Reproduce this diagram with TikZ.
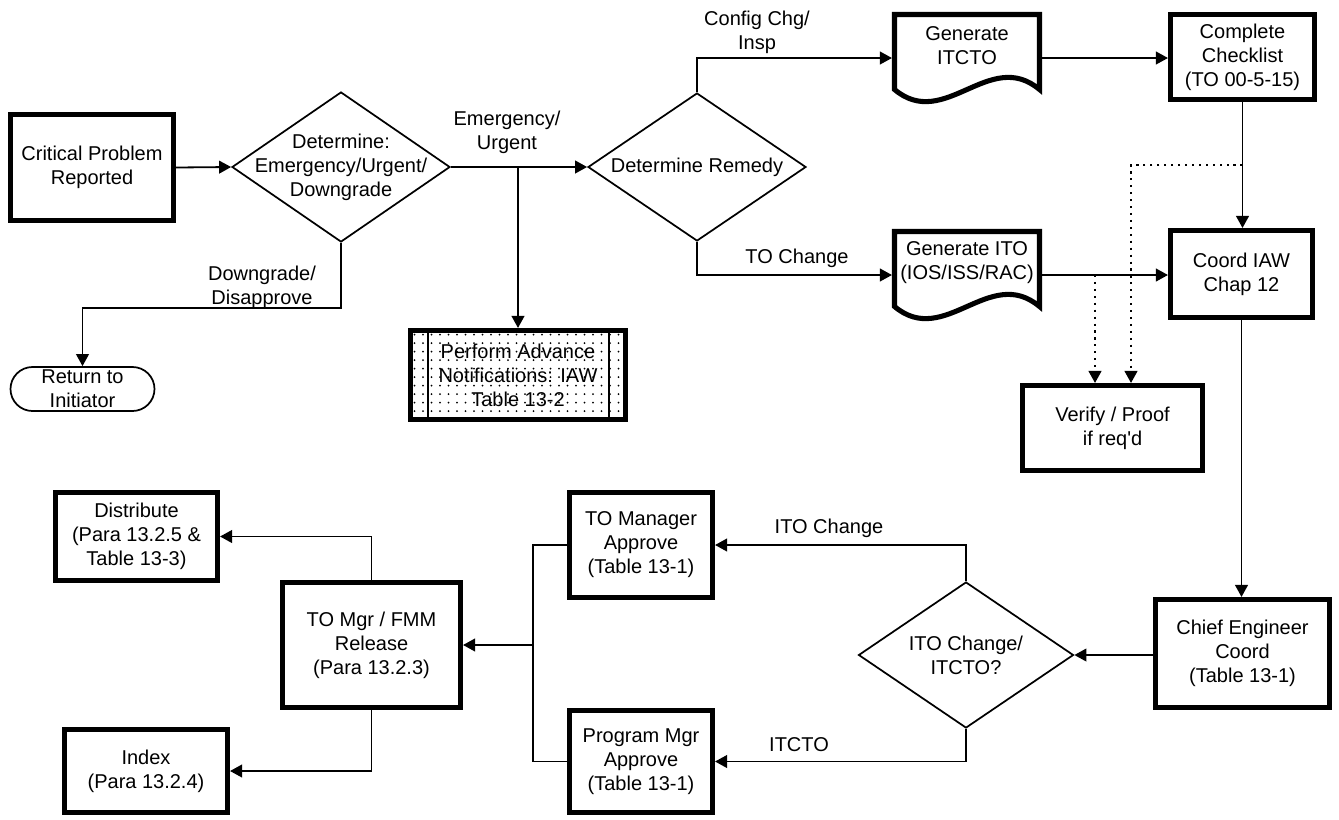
\documentclass[tikz,border=0pt]{standalone}
\usepackage{fontspec}
\setmainfont{Liberation Sans}
\usetikzlibrary{shapes.geometric,arrows.meta,calc}
\begin{document}
\begin{tikzpicture}[x=0.75pt,y=-0.75pt,
  every node/.style={font=\fontsize{15pt}{18pt}\selectfont, align=center, inner sep=0pt},
  sz/.style 2 args={minimum width=#1*0.75pt, minimum height=#2*0.75pt},
  box/.style={draw, rectangle, line width=3.8pt},
  docn/.style={rectangle, draw=none, outer sep=0pt},
  docline/.style={line width=3.8pt, line join=miter},
  dia/.style={draw, diamond, line width=1.3pt},
  term/.style={draw, rectangle, rounded corners=16.5pt, line width=1.3pt},
  conn/.style={line width=1.35pt},
  arr/.style={conn, -{Triangle[length=9pt,width=9.5pt]}},
  dotarr/.style={line width=1.6pt, dash pattern=on 1.6pt off 3.6pt, -{Triangle[length=9pt,width=9.5pt]}},
  dotfill/.style={path picture={
    \foreach \i in {0,...,26}{\foreach \j in {0,...,11}{
      \fill ([shift={(4+\i*8.5,4+\j*8.5)}]path picture bounding box.north west) circle[radius=0.75pt];}}
    \draw[line width=1.3pt] ([xshift=13.1pt]path picture bounding box.north west) -- ([xshift=13.1pt]path picture bounding box.south west);
    \draw[line width=1.3pt] ([xshift=-12.5pt]path picture bounding box.north east) -- ([xshift=-12.5pt]path picture bounding box.south east);
  }},
]
\fill[white] (0,0) rectangle (1339,819);
\useasboundingbox (0,0) rectangle (1339,819);

% ---- upper flow ----
\node[box, sz={163}{106}] (crit) at (92,167.5) {Critical Problem\\Reported};
\node[dia, sz={218}{150}] (d1) at (341,167) {};
\node (d1t) at (d1) {Determine:\\Emergency/Urgent/\\Downgrade};
\node[dia, sz={218}{148}] (d2) at (697,167) {};
\node (d2t) at (d2) {Determine Remedy};

% document shapes (wavy bottom)
\node[docn, sz={145}{75}] (gitcto) at (967,52) {};
\draw[docline] (gitcto.north west) -- (gitcto.north east) -- (gitcto.south east)
  .. controls +(-50,-42) and +(50,42) .. (gitcto.south west) -- cycle;
\node (gitctot) at ($(gitcto)+(0,-6)$) {Generate\\ITCTO};
\node[docn, sz={145}{75}] (gito) at (967,269) {};
\draw[docline] (gito.north west) -- (gito.north east) -- (gito.south east)
  .. controls +(-50,-42) and +(50,42) .. (gito.south west) -- cycle;
\node (gitot) at ($(gito)+(0,-6)$) {Generate ITO\\(IOS/ISS/RAC)};

\node[box, sz={144}{85}] (chk) at (1242.5,57) {Complete\\Checklist\\(TO 00-5-15)};
\node[box, sz={142}{87}] (coord) at (1241.5,274) {Coord IAW\\Chap 12};
\node[box, sz={180}{85}] (verify) at (1112.5,428) {Verify / Proof\\if req\textquotesingle d};
\node[box, sz={215}{89}, dotfill] (perf) at (518,375) {};
\node (perft) at (perf) {Perform Advance\\Notifications: IAW\\Table 13-2};
\node[term, sz={144}{44}] (ret) at (82.5,389) {Return to\\Initiator};

% ---- lower flow ----
\node[box, sz={174}{108}] (chief) at (1242.5,653.5) {Chief Engineer\\Coord\\(Table 13-1)};
\node[dia, sz={215}{146}] (d3) at (966,655) {};
\node (d3t) at (d3) {ITO Change/\\ITCTO?};
\node[box, sz={143}{105}] (tomgr) at (641,545) {TO Manager\\Approve\\(Table 13-1)};
\node[box, sz={143}{102}] (pgm) at (641,761.5) {Program Mgr\\Approve\\(Table 13-1)};
\node[box, sz={178}{125}] (rel) at (371.5,645) {TO Mgr / FMM\\Release\\(Para 13.2.3)};
\node[box, sz={162}{88}] (dist) at (136.5,536.5) {Distribute\\(Para 13.2.5 \&\\Table 13-3)};
\node[box, sz={163}{83}] (idx) at (146,771) {Index\\(Para 13.2.4)};

% ---- connectors ----
\draw[arr] (crit.east) -- (d1.west);
\draw[arr] (d1.east) -- (d2.west);
\draw[arr] (d1.east -| perf.north) -- (perf.north);
\node (lemg) at (507,132) {Emergency/\\Urgent};

\draw[arr, shorten >=1.9pt] (d2.north) |- ($(gitcto.west)+(0,6)$);
\node (lcfg) at (757,32) {Config Chg/\\Insp};
\draw[arr, shorten >=1.9pt] (d2.south) |- ($(gito.west)+(0,6)$);
\node (ltoc) at (797,258) {TO Change};

\coordinate (c1) at ($(gitcto.east)+(0,6)$);
\draw[arr] (c1) -- (c1 -| chk.west);
\draw[arr] (chk.south) -- (chk.south |- coord.north);

\coordinate (tap1) at (chk.south |- 0,165);
\coordinate (vin1) at ($(verify.north)+(-17.5,0)$);
\coordinate (vin2) at ($(verify.north)+(18.5,0)$);
\draw[dotarr] (tap1) -| (vin2);
\coordinate (c2) at ($(gito.east)+(0,6)$);
\draw[arr] (c2) -- (c2 -| coord.west);
\draw[dotarr] (c2 -| vin1) -- (vin1);

\draw[arr] (coord.south) -- (coord.south |- chief.north);
\draw[arr] (chief.west |- d3.east) -- (d3.east);
\draw[arr] (d3.north) |- (tomgr.east);
\node (litoc) at (829,528) {ITO Change};
\draw[arr] (d3.south) |- (pgm.east);
\node (litcto) at (799,745) {ITCTO};

\coordinate (jn) at (533,645);
\draw[conn] (tomgr.west) -| (jn) |- (pgm.west);
\draw[arr] (jn) -- (rel.east);
\draw[arr] (rel.north) |- (dist.east);
\draw[arr] (rel.south) |- (idx.east);

\draw[arr] (d1.south) |- ($(ret.north)+(0,-58)$) -- (ret.north);
\node (ldg) at (262,287) {Downgrade/\\Disapprove};
\end{tikzpicture}
\end{document}
